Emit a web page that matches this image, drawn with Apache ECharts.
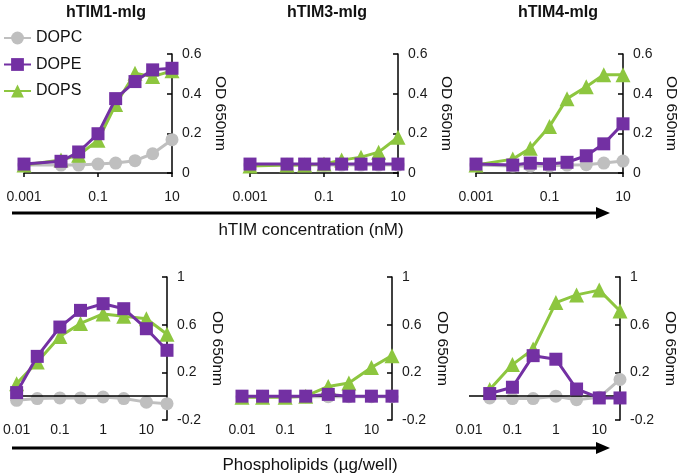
<!DOCTYPE html>
<html>
<head>
<meta charset="utf-8">
<script src="https://cdn.jsdelivr.net/npm/echarts@6/dist/echarts.min.js"></script>
<style>html,body{margin:0;padding:0;background:#fff}#c{width:680px;height:475px}</style>
</head>
<body>
<div id="c"></div>
<script>
// ---- data ----
const panelTitles = ['hTIM1-mIg', 'hTIM3-mIg', 'hTIM4-mIg'];
const seriesNames = ['DOPC', 'DOPE', 'DOPS'];
const topX = [0.001, 0.01, 0.03, 0.1, 0.3, 1, 3, 10];
const tim1_DOPC = [0.04, 0.04, 0.04, 0.045, 0.05, 0.062, 0.097, 0.168];
const tim1_DOPE = [0.045, 0.059, 0.106, 0.198, 0.375, 0.461, 0.52, 0.528];
const tim1_DOPS = [0.04, 0.065, 0.09, 0.165, 0.345, 0.503, 0.486, 0.515];
const tim3_DOPC = [0.04, 0.04, 0.04, 0.04, 0.04, 0.04, 0.04, 0.04];
const tim3_DOPE = [0.045, 0.045, 0.045, 0.045, 0.045, 0.045, 0.045, 0.045];
const tim3_DOPS = [0.035, 0.04, 0.04, 0.045, 0.065, 0.08, 0.105, 0.18];
const tim4_DOPC = [0.04, 0.035, 0.035, 0.035, 0.04, 0.042, 0.05, 0.06];
const tim4_DOPE = [0.045, 0.04, 0.05, 0.045, 0.054, 0.087, 0.147, 0.248];
const tim4_DOPS = [0.04, 0.07, 0.125, 0.235, 0.375, 0.435, 0.495, 0.495];

const bottomX = [0.01, 0.03, 0.1, 0.3, 1, 3, 10, 30];
const pl1_DOPC = [-0.035, -0.02, -0.015, -0.015, -0.007, -0.02, -0.05, -0.063];
const pl1_DOPE = [0.03, 0.334, 0.58, 0.72, 0.776, 0.734, 0.566, 0.385];
const pl1_DOPS = [0.105, 0.287, 0.5, 0.61, 0.69, 0.67, 0.65, 0.52];
const pl3_DOPC = [-0.005, -0.005, -0.005, -0.005, -0.005, -0.005, -0.005, -0.005];
const pl3_DOPE = [0, 0, 0, 0, 0.015, 0, 0, 0];
const pl3_DOPS = [-0.01, -0.01, -0.01, 0, 0.082, 0.11, 0.24, 0.34];
const pl4_DOPC = [null, -0.015, -0.02, -0.02, 0, -0.03, -0.01, 0.14];
const pl4_DOPE = [null, 0.022, 0.075, 0.34, 0.31, 0.06, -0.015, -0.015];
const pl4_DOPS = [null, 0.055, 0.265, 0.395, 0.785, 0.85, 0.89, 0.715];

const topYTicks = {min: 0, max: 0.6, interval: 0.2};
const bottomYTicks = {min: -0.2, max: 1, interval: 0.4};
const topXRange = {min: 0.001, max: 10};
const bottomXRange = {min: 0.01, max: 30};
const topAxisTitle = 'hTIM concentration (nM)';
const bottomAxisTitle = 'Phospholipids (µg/well)';
const yAxisName = 'OD 650nm';

// ---- styling ----
const FONT = '"Liberation Sans", Arial, Helvetica, sans-serif';
const colors = {DOPC: '#bfbfbf', DOPE: '#7330a3', DOPS: '#8dc63f'};
const symbols = {DOPC: 'circle', DOPE: 'rect', DOPS: 'triangle'};
const symbolSizes = {DOPC: 13, DOPE: 13, DOPS: 15};

const grids = [
  {left: 24, top: 54, width: 148, height: 119},
  {left: 250, top: 54, width: 148, height: 119},
  {left: 476, top: 54, width: 147, height: 119},
  {left: 15, top: 277, width: 152, height: 143},
  {left: 242, top: 277, width: 150, height: 143},
  {left: 469, top: 277, width: 151, height: 143}
];

const panelData = [
  {x: topX, DOPC: tim1_DOPC, DOPE: tim1_DOPE, DOPS: tim1_DOPS},
  {x: topX, DOPC: tim3_DOPC, DOPE: tim3_DOPE, DOPS: tim3_DOPS},
  {x: topX, DOPC: tim4_DOPC, DOPE: tim4_DOPE, DOPS: tim4_DOPS},
  {x: bottomX, DOPC: pl1_DOPC, DOPE: pl1_DOPE, DOPS: pl1_DOPS},
  {x: bottomX, DOPC: pl3_DOPC, DOPE: pl3_DOPE, DOPS: pl3_DOPS},
  {x: bottomX, DOPC: pl4_DOPC, DOPE: pl4_DOPE, DOPS: pl4_DOPS}
];

function logLabel(v) {
  const l = Math.log10(v);
  const e = Math.round(l);
  if (Math.abs(l - e) > 1e-6) return '';
  return String(+Math.pow(10, e).toPrecision(3));
}
function numLabel(v) { return String(+(+v).toFixed(2)); }

const xAxes = [], yAxes = [], series = [];
grids.forEach((g, i) => {
  const isTop = i < 3;
  const xr = isTop ? topXRange : bottomXRange;
  xAxes.push({
    gridIndex: i, type: 'log', logBase: 10, min: xr.min, max: xr.max, interval: isTop ? 2 : 1,
    axisLine: {show: isTop, onZero: false, lineStyle: {color: '#000', width: 1.5}},
    axisTick: {show: isTop, length: 4, lineStyle: {color: '#000', width: 1.5}},
    splitLine: {show: false}, minorTick: {show: false},
    axisLabel: {formatter: logLabel, margin: isTop ? 17 : 3, fontSize: 14, color: '#1a1a1a', fontFamily: FONT,
      showMaxLabel: true, showMinLabel: true, hideOverlap: false}
  });
  const yr = isTop ? topYTicks : bottomYTicks;
  yAxes.push({
    gridIndex: i, type: 'value', position: 'right', min: yr.min, max: yr.max, interval: yr.interval,
    axisLine: {show: true, lineStyle: {color: '#000', width: 1.5}},
    axisTick: {show: true, inside: true, length: 5, lineStyle: {color: '#000', width: 1.5}},
    splitLine: {show: false},
    axisLabel: {formatter: numLabel, margin: 10, fontSize: 14, color: '#1a1a1a', fontFamily: FONT},
    name: yAxisName, nameLocation: 'middle', nameRotate: -90, nameGap: isTop ? 40 : 42,
    nameTextStyle: {fontSize: 15.5, color: '#111', fontFamily: FONT}
  });
  const d = panelData[i];
  ['DOPC', 'DOPS', 'DOPE'].forEach((name, k) => {
    const pts = [];
    d.x.forEach((xv, j) => { if (d[name][j] != null) pts.push([xv, d[name][j]]); });
    const s = {
      name: name, type: 'line', xAxisIndex: i, yAxisIndex: i, data: pts,
      symbol: symbols[name], symbolSize: symbolSizes[name], showSymbol: true, clip: false,
      color: colors[name],
      lineStyle: {color: colors[name], width: 3},
      itemStyle: {color: colors[name]},
      z: 3 + k, animation: false
    };
    if (!isTop && k === 0) {
      s.markLine = {
        silent: true, symbol: 'none', animation: false,
        label: {show: false},
        lineStyle: {color: '#000', width: 1.5, type: 'solid'},
        data: [{yAxis: 0}]
      };
    }
    series.push(s);
  });
});

const graphic = [];
const titleX = [106, 327, 558];
panelTitles.forEach((t, i) => {
  graphic.push({type: 'text', x: titleX[i], y: 13,
    style: {text: t, font: 'bold 16px ' + FONT, fill: '#111', align: 'center', verticalAlign: 'middle'}});
});
graphic.push({type: 'text', x: 311, y: 230,
  style: {text: topAxisTitle, font: '17px ' + FONT, fill: '#111', align: 'center', verticalAlign: 'middle'}});
graphic.push({type: 'text', x: 310, y: 465,
  style: {text: bottomAxisTitle, font: '17px ' + FONT, fill: '#111', align: 'center', verticalAlign: 'middle'}});
[213, 448].forEach(yy => {
  graphic.push({type: 'line', shape: {x1: 12, y1: yy, x2: 598, y2: yy}, style: {stroke: '#000', lineWidth: 3}});
  graphic.push({type: 'polygon', shape: {points: [[596, yy - 6], [610, yy], [596, yy + 6]]}, style: {fill: '#000'}});
});

const chart = echarts.init(document.getElementById('c'), null, {renderer: 'canvas'});
chart.setOption({
  animation: false,
  backgroundColor: '#fff',
  textStyle: {fontFamily: FONT},
  legend: {
    data: seriesNames, orient: 'vertical', left: 3, top: 30, padding: 0, itemWidth: 27, itemHeight: 16, itemGap: 10.5,
    textStyle: {fontSize: 16, color: '#111', fontFamily: FONT}, selectedMode: false
  },
  grid: grids,
  xAxis: xAxes,
  yAxis: yAxes,
  series: series,
  graphic: graphic
});
</script>
</body>
</html>
